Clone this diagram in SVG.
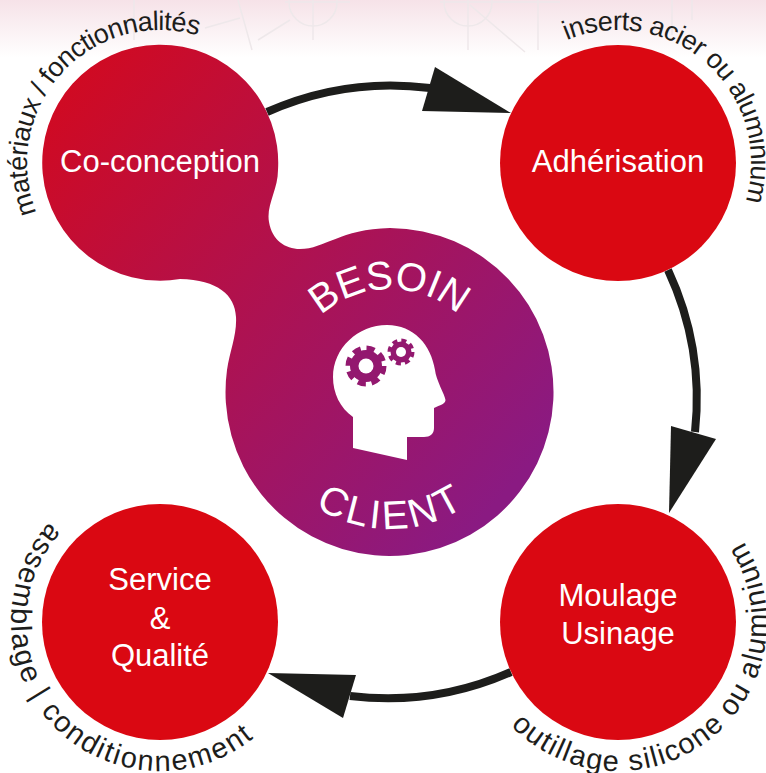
<svg xmlns="http://www.w3.org/2000/svg" width="766" height="773" viewBox="0 0 766 773">
<style>
text{font-family:"Liberation Sans",Arial,sans-serif}
.nl{font-size:31px;fill:#fff;text-anchor:middle}
.cap{font-size:27px;fill:#1d1d1b}
.low{font-size:29px;fill:#1d1d1b}
.big{font-size:40px;fill:#fff}
.ring{fill:none;stroke:#1d1d1b;stroke-width:8}
.head{fill:#1d1d1b}
.red{fill:#da0812}
.sk{fill:none;stroke:#eee8ea;stroke-width:1.5}
.gear{fill:#93186f}
</style>
<defs>
<linearGradient id="bg" x1="0" y1="0" x2="0" y2="1"><stop offset="0" stop-color="#f6e2e8"/><stop offset="1" stop-color="#fff"/></linearGradient>
<linearGradient id="blob" gradientUnits="userSpaceOnUse" x1="75" y1="75" x2="525" y2="470"><stop offset="0" stop-color="#d00a22"/><stop offset="1" stop-color="#8a1a82"/></linearGradient>
<path id="p1" d="M36.7 212.8A133 133 0 0 1 261.9 77.5"/>
<path id="p2" d="M566.9 40.2A133 133 0 0 1 719.9 248.5"/>
<path id="p3" d="M49.3 522.3A149 149 0 1 0 300 673"/>
<path id="p4" d="M510.8 725.5A149 149 0 1 0 692.5 493"/>
<path id="p5" d="M321 315.5A103 103 0 0 1 486.8 356.8"/>
<path id="p6" d="M315.4 506.9A137 137 0 0 0 508.6 460.5"/>
</defs>
<rect width="766" height="773" fill="#fff"/>
<rect id="background" width="766" height="58" fill="url(#bg)"/>
<g id="sketch" class="sk">
<circle class="sk" cx="313" cy="2" r="24"/><path class="sk" d="M285 2H350M313 0V40M238 0L252 50M205 28L240 18M290 20L258 40"/>
<circle class="sk" cx="468" cy="2" r="24"/><path class="sk" d="M440 2H560M468 0V50M470 5L525 52M134 0V40M538 0V50M672 0V35M692 0V20"/>
</g>
<g id="connectors">
<path class="ring" d="M267 112A306 306 0 0 1 430 88"/>
<path class="ring" d="M668 270A306 306 0 0 1 695 432"/>
<path class="ring" d="M511 672A306 306 0 0 1 350 696"/>
<polygon class="head" points="511,113 435,67 422,111"/>
<polygon class="head" points="669,513 671,426 716,439"/>
<polygon class="head" points="268,673 356,675 343,718"/>
</g>
<g id="besoin-client">
<path fill="url(#blob)" d="M278 170C278 190 266 205 269 222C272 240 285 249 300 249C325 249 340 229 390 228A164 164 0 1 1 227 370C230 350 237 335 236 317C235 295 218 280 180 279A118 118 0 1 1 278 170Z"/>
<path fill="#fff" d="M353 417C340 408 333 393 333 377C333 348 358 325 387 325C414 325 431 345 435 370C436 380 445 395 445.500 400C445.500 404 440 405 434 408V428C434 434 430 437 424 437H407V460L353 448Z"/>
<g id="gears">
<circle class="gear" cx="366" cy="366" r="16"/><circle cx="366" cy="366" r="17.500" fill="none" stroke="#93186f" stroke-width="6" stroke-dasharray="8 5.74"/><circle cx="366" cy="366" r="7.500" fill="#fff"/>
<circle class="gear" cx="401" cy="352" r="10.500"/><circle cx="401" cy="352" r="11.500" fill="none" stroke="#93186f" stroke-width="4" stroke-dasharray="5 4.03"/><circle cx="401" cy="352" r="5" fill="#fff"/>
</g>
<text class="big" style="letter-spacing:-.3px"><textPath href="#p5">BESOIN</textPath></text>
<text class="big" style="letter-spacing:3px"><textPath href="#p6">CLIENT</textPath></text>
</g>
<g id="co-conception">
<text class="nl" x="160" y="172">Co-conception</text>
<text class="cap" style="letter-spacing:-.6px"><textPath href="#p1">matériaux / fonctionnalités</textPath></text>
</g>
<g id="adherisation">
<circle class="red" cx="618" cy="163" r="118"/>
<text class="nl" x="618" y="172">Adhérisation</text>
<text class="cap" style="letter-spacing:-.55px"><textPath href="#p2">inserts acier ou aluminium</textPath></text>
</g>
<g id="moulage-usinage">
<circle class="red" cx="618" cy="622" r="118"/>
<text class="nl" x="618" y="606">Moulage</text>
<text class="nl" x="618" y="644">Usinage</text>
<text class="low" style="letter-spacing:1.500px"><textPath href="#p4">outillage silicone ou aluminium</textPath></text>
</g>
<g id="service-qualite">
<circle class="red" cx="160" cy="622" r="118"/>
<text class="nl" x="160" y="590">Service</text>
<text class="nl" x="160" y="629">&amp;</text>
<text class="nl" x="160" y="666">Qualité</text>
<text class="low" style="letter-spacing:1.900px"><textPath href="#p3">assemblage | conditionnement</textPath></text>
</g>
</svg>
